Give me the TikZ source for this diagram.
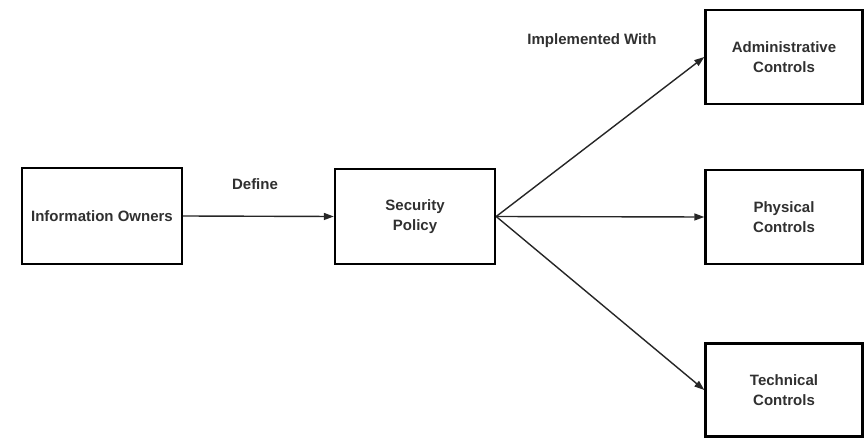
\documentclass[tikz,border=0pt]{standalone}
\usepackage{fontspec}
\setmainfont{Liberation Sans}
\usetikzlibrary{arrows.meta}
\definecolor{txt}{HTML}{303030}
\begin{document}
\begin{tikzpicture}[x=1pt,y=-1pt,
  box/.style={draw=black,line width=2.4pt,fill=white,align=center,inner sep=0pt,
    font=\fontsize{15}{19.5}\selectfont\bfseries,text=txt},
  conn/.style={draw=black!85,line width=1.4pt,-{Triangle[length=10pt,width=7pt]}},
  lbl/.style={font=\fontsize{15}{18}\selectfont\bfseries,text=txt}]
\useasboundingbox[fill=white] (0,0) rectangle (865,438);
\node[box,minimum width=160pt,minimum height=96pt] (io) at (102,216) {Information Owners};
\node[box,minimum width=160pt,minimum height=95pt] (sp) at (415,216.5) {Security\\Policy};
\node[box,minimum width=157pt,minimum height=94pt] (ac) at (784,57) {Administrative\\Controls};
\node[box,minimum width=157pt,minimum height=94pt] (pc) at (784,217) {Physical\\Controls};
\node[box,minimum width=157pt,minimum height=93pt] (tc) at (784,390) {Technical\\Controls};
\draw[conn] (io.east) -- (sp.west);
\draw[conn] (sp.east) -- (ac.west);
\draw[conn] (sp.east) -- (pc.west);
\draw[conn] (sp.east) -- (tc.west);
\node[lbl] (def) at (255,184) {Define};
\node[lbl] (iw) at (592,41) {Implemented With};
\end{tikzpicture}
\end{document}
